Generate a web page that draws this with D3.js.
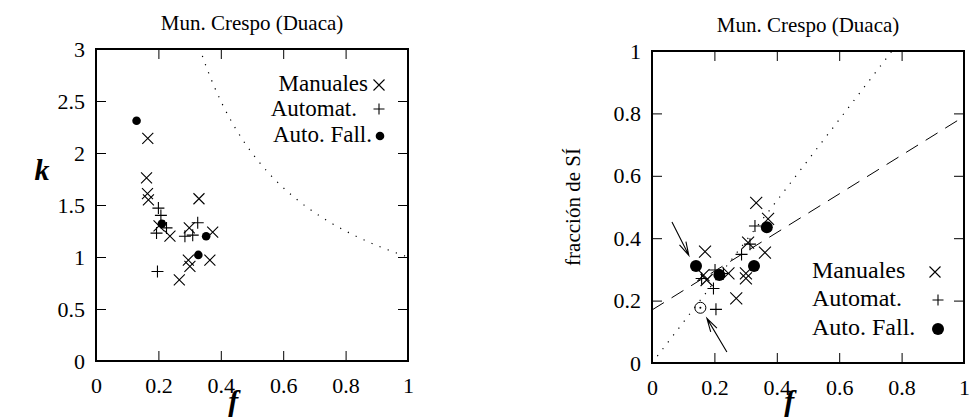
<!DOCTYPE html>
<html>
<head>
<meta charset="utf-8">
<script src="https://cdn.jsdelivr.net/npm/d3@7"></script>
<style>
  body { margin: 0; background: #fff; }
  svg { display: block; }
  text { font-family: "Liberation Serif", "Times New Roman", serif; fill: #000; }
</style>
</head>
<body>
<svg id="chart" width="977" height="418"></svg>
<script>
// ---- data ----
const panelTitle = "Mun. Crespo (Duaca)";
const legendLabels = ["Manuales", "Automat.", "Auto. Fall."];

const fTicks = [0, 0.2, 0.4, 0.6, 0.8, 1];
const kTicks = [0, 0.5, 1, 1.5, 2, 2.5, 3];
const siTicks = [0, 0.2, 0.4, 0.6, 0.8, 1];

// left panel: k against f
const kManuales = [[0.166, 2.14], [0.162, 1.76], [0.165, 1.61], [0.168, 1.55], [0.330, 1.56],
  [0.299, 1.28], [0.237, 1.20], [0.374, 1.24], [0.202, 1.30], [0.296, 0.97], [0.301, 0.91],
  [0.365, 0.97], [0.267, 0.78]];
const kAutomat = [[0.200, 1.47], [0.208, 1.40], [0.194, 1.23], [0.226, 1.28], [0.285, 1.20],
  [0.310, 1.21], [0.326, 1.33], [0.197, 0.86]];
const kAutoFall = [[0.130, 2.31], [0.211, 1.32], [0.353, 1.20], [0.328, 1.02]];

// right panel: fraction of "sí" against f
const siManuales = [[0.170, 0.357], [0.165, 0.282], [0.175, 0.266], [0.245, 0.287], [0.301, 0.287],
  [0.301, 0.271], [0.270, 0.207], [0.362, 0.354], [0.308, 0.386], [0.334, 0.513], [0.372, 0.462]];
const siAutomat = [[0.330, 0.439], [0.314, 0.381], [0.287, 0.348], [0.202, 0.298], [0.197, 0.239],
  [0.205, 0.172], [0.159, 0.271], [0.229, 0.287]];
const siAutoFall = [[0.141, 0.311], [0.216, 0.282], [0.327, 0.311], [0.368, 0.435]];
const siMarked = [[0.155, 0.177]];

// reference lines
const kCurveConst = 1;              // k = c / f
const siDotted = { a: 0, b: 1.3 };    // y = a + b f
const siDashed = { a: 0.17, b: 0.62 };
// annotation arrows [from, to] in data units
const siArrows = [[[0.064, 0.452], [0.118, 0.345]], [[0.240, 0.035], [0.176, 0.143]]];

// ---- drawing ----
const serif = "Liberation Serif, Times New Roman, serif";
const svg = d3.select("#chart");

function cross(g, x, y, h) {
  g.append("path").attr("d", `M${x - h},${y - h}L${x + h},${y + h}M${x - h},${y + h}L${x + h},${y - h}`)
    .attr("stroke", "#000").attr("stroke-width", 1.1).attr("fill", "none");
}
function plus(g, x, y, h) {
  g.append("path").attr("d", `M${x - h},${y}L${x + h},${y}M${x},${y - h}L${x},${y + h}`)
    .attr("stroke", "#000").attr("stroke-width", 1.1).attr("fill", "none");
}
function dot(g, x, y, r) {
  g.append("circle").attr("cx", x).attr("cy", y).attr("r", r).attr("fill", "#000");
}

function panel(opt) {
  const x = d3.scaleLinear().domain([0, 1]).range([opt.x0, opt.x1]);
  const y = d3.scaleLinear().domain(opt.yDomain).range([opt.y1, opt.y0]);
  const g = svg.append("g");

  const clipId = "clip" + opt.x0;
  svg.append("clipPath").attr("id", clipId).append("rect")
    .attr("x", opt.x0).attr("y", opt.y0).attr("width", opt.x1 - opt.x0).attr("height", opt.y1 - opt.y0);

  const tick = 10;
  const styleAxis = sel => {
    sel.attr("font-family", serif).attr("font-size", 22);
    sel.select(".domain").remove();
    sel.selectAll(".tick line").attr("stroke", "#000").attr("stroke-width", 1);
    sel.selectAll("text").attr("font-family", serif).attr("font-size", 22)
      .style("font-family", serif).style("font-size", "22px");
  };
  g.append("g").attr("transform", `translate(0,${opt.y1})`)
    .call(d3.axisBottom(x).tickValues(fTicks).tickFormat(d3.format("")).tickSizeInner(-tick).tickSizeOuter(0).tickPadding(16))
    .call(styleAxis);
  g.append("g").attr("transform", `translate(0,${opt.y0})`)
    .call(d3.axisTop(x).tickValues(fTicks).tickFormat("").tickSizeInner(-tick).tickSizeOuter(0))
    .call(styleAxis);
  g.append("g").attr("transform", `translate(${opt.x0},0)`)
    .call(d3.axisLeft(y).tickValues(opt.yTicks).tickFormat(d3.format("")).tickSizeInner(-tick).tickSizeOuter(0).tickPadding(11))
    .call(styleAxis);
  g.append("g").attr("transform", `translate(${opt.x1},0)`)
    .call(d3.axisRight(y).tickValues(opt.yTicks).tickFormat("").tickSizeInner(-tick).tickSizeOuter(0))
    .call(styleAxis);

  g.append("rect").attr("x", opt.x0).attr("y", opt.y0)
    .attr("width", opt.x1 - opt.x0).attr("height", opt.y1 - opt.y0)
    .attr("fill", "none").attr("stroke", "#000").attr("stroke-width", 2);

  g.append("text").attr("x", (opt.x0 + opt.x1) / 2).attr("y", opt.titleY)
    .attr("text-anchor", "middle").style("font-size", "21px").text(panelTitle);

  g.append("text").attr("x", x(0.44)).attr("y", 411).attr("text-anchor", "middle")
    .style("font-size", "30px").style("font-weight", "bold").style("font-style", "italic").text("f");

  return { x, y, g, clipId };
}

// ---- left panel ----
const P1 = panel({ x0: 96, x1: 408, y0: 49, y1: 361, yDomain: [0, 3], yTicks: kTicks, titleY: 30 });
{
  const { x, y, g, clipId } = P1;
  const fs = d3.range(0.3, 1.0001, 0.005);
  g.append("path").attr("clip-path", `url(#${clipId})`)
    .attr("d", d3.line().x(f => x(f)).y(f => y(kCurveConst / f))(fs))
    .attr("fill", "none").attr("stroke", "#000").attr("stroke-width", 1.2)
    .attr("stroke-dasharray", "1.2,7.5");

  kManuales.forEach(d => cross(g, x(d[0]), y(d[1]), 5.5));
  kAutomat.forEach(d => plus(g, x(d[0]), y(d[1]), 6));
  kAutoFall.forEach(d => dot(g, x(d[0]), y(d[1]), 4.3));

  g.append("text").attr("x", 42).attr("y", 180).attr("text-anchor", "middle")
    .style("font-size", "30px").style("font-weight", "bold").style("font-style", "italic").text("k");

  const legX = [368, 357, 372], legY = [91, 116, 142], mkY = [85, 109, 136];
  legendLabels.forEach((t, i) => {
    g.append("text").attr("x", legX[i]).attr("y", legY[i]).attr("text-anchor", "end")
      .style("font-size", "23px").text(t);
  });
  cross(g, 379, mkY[0], 5.5);
  plus(g, 379, mkY[1], 5.5);
  dot(g, 380, mkY[2], 4.3);
}

// ---- right panel ----
const P2 = panel({ x0: 652, x1: 964, y0: 51, y1: 363, yDomain: [0, 1], yTicks: siTicks, titleY: 32 });
{
  const { x, y, g, clipId } = P2;
  const ends = [0, 1];
  g.append("path").attr("clip-path", `url(#${clipId})`)
    .attr("d", d3.line().x(f => x(f)).y(f => y(siDotted.a + siDotted.b * f))(ends))
    .attr("fill", "none").attr("stroke", "#000").attr("stroke-width", 1.2)
    .attr("stroke-dasharray", "1.2,7.5");
  g.append("path").attr("clip-path", `url(#${clipId})`)
    .attr("d", d3.line().x(f => x(f)).y(f => y(siDashed.a + siDashed.b * f))(ends))
    .attr("fill", "none").attr("stroke", "#000").attr("stroke-width", 1)
    .attr("stroke-dasharray", "14,9");

  siManuales.forEach(d => cross(g, x(d[0]), y(d[1]), 6));
  siAutomat.forEach(d => plus(g, x(d[0]), y(d[1]), 6));
  siAutoFall.forEach(d => dot(g, x(d[0]), y(d[1]), 6));
  siMarked.forEach(d => {
    g.append("circle").attr("cx", x(d[0])).attr("cy", y(d[1])).attr("r", 5.5)
      .attr("fill", "none").attr("stroke", "#000").attr("stroke-width", 1);
    dot(g, x(d[0]), y(d[1]), 1);
  });

  siArrows.forEach(([a, b]) => {
    const x1 = x(a[0]), y1 = y(a[1]), x2 = x(b[0]), y2 = y(b[1]);
    const ang = Math.atan2(y2 - y1, x2 - x1), len = 14, spread = 0.26;
    const h1 = [x2 - len * Math.cos(ang - spread), y2 - len * Math.sin(ang - spread)];
    const h2 = [x2 - len * Math.cos(ang + spread), y2 - len * Math.sin(ang + spread)];
    g.append("path").attr("d", `M${x1},${y1}L${x2},${y2}M${h1[0]},${h1[1]}L${x2},${y2}L${h2[0]},${h2[1]}`)
      .attr("fill", "none").attr("stroke", "#000").attr("stroke-width", 1.1);
  });

  g.append("text").attr("transform", "translate(580,207) rotate(-90)").attr("text-anchor", "middle")
    .style("font-size", "21px").text("fracción de SÍ");

  const legY = [278, 306, 335], mkY = [272, 300, 329];
  legendLabels.forEach((t, i) => {
    g.append("text").attr("x", 812).attr("y", legY[i]).style("font-size", "24px").text(t);
  });
  cross(g, 935, mkY[0], 5.5);
  plus(g, 938, mkY[1], 5.5);
  dot(g, 938, mkY[2], 6);
}
</script>
</body>
</html>
